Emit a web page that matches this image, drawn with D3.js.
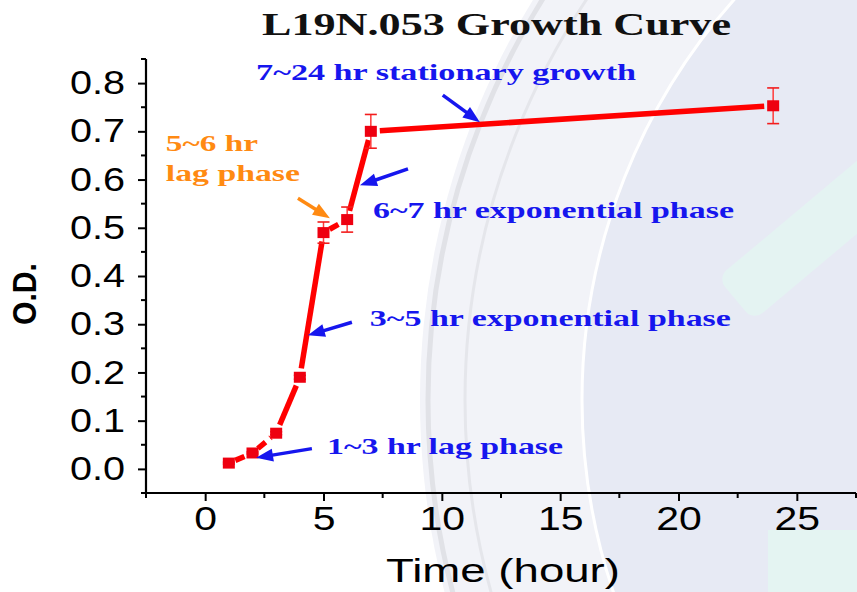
<!DOCTYPE html>
<html>
<head>
<meta charset="utf-8">
<script src="https://cdn.jsdelivr.net/npm/d3@7"></script>
<style>
  html, body { margin: 0; padding: 0; background: #fff; }
  svg { display: block; }
</style>
</head>
<body>
<svg id="chart" width="857" height="592"></svg>
<script>
// Sampling times (hours) and measured optical density with error
const times = [1, 2, 3, 4, 5, 6, 7, 24];
const odValues = [0.012, 0.033, 0.074, 0.19, 0.49, 0.517, 0.70, 0.753];
const odErrors = [0.002, 0.002, 0.003, 0.004, 0.022, 0.026, 0.035, 0.037];
// Lag-phase connections are drawn dashed
const segmentDashed = [true, true, false, false, true, false, false];

const xTicks = [0, 5, 10, 15, 20, 25];
const yTicks = [0.0, 0.1, 0.2, 0.3, 0.4, 0.5, 0.6, 0.7, 0.8];

// Growth-phase notes: text anchor and arrow (tail -> tip) in hour / O.D. units
const noteTexts = ["7~24 hr stationary growth", "5~6 hr", "lag phase",
                   "6~7 hr exponential phase", "3~5 hr exponential phase", "1~3 hr lag phase"];
const noteHour = [2.15, -1.66, -1.66, 7.09, 6.96, 5.15];
const noteOD   = [0.807, 0.659, 0.597, 0.520, 0.297, 0.031];
const noteKind = ["blue", "orange", "orange", "blue", "blue", "blue"];

const arrowTail = [[10.04, 0.775], [8.57, 0.622], [6.2, 0.304], [4.51, 0.042], [3.92, 0.561]];
const arrowTip  = [[11.61, 0.719], [6.54, 0.588], [4.34, 0.277], [2.15, 0.023], [5.27, 0.520]];
const arrowKind = ["blue", "blue", "blue", "blue", "orange"];

const svg = d3.select("#chart");
const W = 857, H = 592;
const margin = { left: 146, right: 1, top: 59, bottom: 99 };

const colors = { blue: "#1616ee", orange: "#ff8a12", red: "#ff0000", marker: "#ee0010" };
const serif = "'Liberation Serif', 'Times New Roman', serif";
const sans = "'Liberation Sans', Arial, sans-serif";

// Light seal emblem in the background
const seal = svg.append("g");
const sc = [1185, 400];
seal.append("circle").attr("cx", sc[0]).attr("cy", sc[1]).attr("r", 765).attr("fill", "#f2f3f8");
seal.append("circle").attr("cx", sc[0]).attr("cy", sc[1]).attr("r", 757)
  .attr("fill", "none").attr("stroke", "#e1e2e7").attr("stroke-width", 5);
seal.append("circle").attr("cx", sc[0]).attr("cy", sc[1]).attr("r", 720)
  .attr("fill", "none").attr("stroke", "#e5e6eb").attr("stroke-width", 3);
seal.append("circle").attr("cx", sc[0]).attr("cy", sc[1]).attr("r", 603)
  .attr("fill", "#e7eaf4").attr("stroke", "#ffffff").attr("stroke-width", 3);
seal.append("rect").attr("x", -100).attr("y", -28).attr("width", 210).attr("height", 56).attr("rx", 12)
  .attr("transform", "translate(812,235) rotate(-40)").attr("fill", "#e4f3f2");
seal.append("rect").attr("x", 768).attr("y", 530).attr("width", 89).attr("height", 62).attr("fill", "#e4f4f2");

const x = d3.scaleLinear().domain([-2.5, 27.5]).range([margin.left, W - margin.right]);
const y = d3.scaleLinear().domain([-0.05, 0.85]).range([H - margin.bottom, margin.top]);

// Horizontally widen a text element by a factor
function widen(sel, factor) {
  sel.each(function () {
    const w = this.getComputedTextLength();
    d3.select(this).attr("textLength", w * factor).attr("lengthAdjust", "spacingAndGlyphs");
  });
}

// Axes
const xMinor = d3.range(-2.5, 27.6, 2.5).filter(v => !xTicks.includes(v));
const yMinor = d3.range(-0.05, 0.851, 0.1).map(v => +v.toFixed(2));

const xAxisG = svg.append("g").attr("transform", `translate(0,${y(-0.05)})`);
xAxisG.call(d3.axisBottom(x).tickValues(xTicks).tickFormat(d3.format("d")).tickSize(8).tickPadding(6));
xAxisG.selectAll(".minor").data(xMinor).enter().append("line")
  .attr("x1", d => x(d)).attr("x2", d => x(d)).attr("y1", 0).attr("y2", 5)
  .attr("stroke", "#000").attr("stroke-width", 2);

const yAxisG = svg.append("g").attr("transform", `translate(${x(-2.5)},0)`);
yAxisG.call(d3.axisLeft(y).tickValues(yTicks).tickFormat(d3.format(".1f")).tickSize(8).tickPadding(13));
yAxisG.selectAll(".minor").data(yMinor).enter().append("line")
  .attr("y1", d => y(d)).attr("y2", d => y(d)).attr("x1", 0).attr("x2", -5)
  .attr("stroke", "#000").attr("stroke-width", 2);

[xAxisG, yAxisG].forEach(g => {
  g.select(".domain").attr("stroke", "#000").attr("stroke-width", 2.2);
  g.selectAll(".tick line").attr("stroke", "#000").attr("stroke-width", 2);
  g.selectAll(".tick text").attr("font-family", sans).attr("font-size", 33).attr("fill", "#000");
});
xAxisG.select(".domain").attr("d", `M${x(-2.5)},0H${x(27.5)}`);
yAxisG.select(".domain").attr("d", `M0,${y(-0.05)}V${y(0.85)}`);
xAxisG.selectAll(".tick text").attr("dy", "0.71em").call(widen, 1.24);
yAxisG.selectAll(".tick text").call(widen, 1.2);

// Axis titles
svg.append("text")
  .attr("x", 503).attr("y", 582)
  .attr("text-anchor", "middle")
  .attr("font-family", sans).attr("font-size", 33).attr("fill", "#000")
  .text("Time (hour)")
  .attr("textLength", 234).attr("lengthAdjust", "spacingAndGlyphs");

svg.append("text")
  .attr("transform", `translate(36,294) rotate(-90)`)
  .attr("text-anchor", "middle")
  .attr("font-family", sans).attr("font-weight", "bold").attr("font-size", 33).attr("fill", "#000")
  .text("O.D.")
  .attr("textLength", 62).attr("lengthAdjust", "spacingAndGlyphs");

// Title
svg.append("text")
  .attr("x", 262).attr("y", 35)
  .attr("font-family", serif).attr("font-weight", "bold").attr("font-size", 32).attr("fill", "#111")
  .text("L19N.053 Growth Curve")
  .attr("textLength", 469).attr("lengthAdjust", "spacingAndGlyphs");

// Connecting segments, trimmed short of the symbols
const pts = times.map((t, i) => [x(t), y(odValues[i])]);
const segs = d3.range(pts.length - 1).map(i => ({ a: pts[i], b: pts[i + 1], dashed: segmentDashed[i] }));
svg.append("g").selectAll("line").data(segs).enter().append("line")
  .each(function (d) {
    const dx = d.b[0] - d.a[0], dy = d.b[1] - d.a[1];
    const len = Math.hypot(dx, dy);
    const gap = d.dashed ? 7 : 9;
    const ux = dx / len, uy = dy / len;
    d3.select(this)
      .attr("x1", d.a[0] + ux * gap).attr("y1", d.a[1] + uy * gap)
      .attr("x2", d.b[0] - ux * gap).attr("y2", d.b[1] - uy * gap);
  })
  .attr("stroke", colors.red).attr("stroke-width", 5.5)
  .attr("stroke-dasharray", d => d.dashed ? "10,6" : null);

// Error bars
const eb = svg.append("g");
times.forEach((t, i) => {
  const cx = x(t), top = y(odValues[i] + odErrors[i]), bot = y(odValues[i] - odErrors[i]);
  eb.append("line").attr("x1", cx).attr("x2", cx).attr("y1", top).attr("y2", bot)
    .attr("stroke", "#ff3a3a").attr("stroke-width", 1.5);
  [top, bot].forEach(yy => eb.append("line")
    .attr("x1", cx - 6).attr("x2", cx + 6).attr("y1", yy).attr("y2", yy)
    .attr("stroke", "#f21d1d").attr("stroke-width", 1.6));
});

// Square symbols
svg.append("g").selectAll("rect").data(times).enter().append("rect")
  .attr("x", d => x(d) - 6).attr("y", (d, i) => y(odValues[i]) - 5.5)
  .attr("width", 12).attr("height", 11)
  .attr("fill", colors.marker);

// Arrows
const arrowG = svg.append("g");
arrowTail.forEach((tail, i) => {
  const x0 = x(tail[0]), y0 = y(tail[1]);
  const x1 = x(arrowTip[i][0]), y1 = y(arrowTip[i][1]);
  const c = colors[arrowKind[i]];
  const len = Math.hypot(x1 - x0, y1 - y0);
  const ux = (x1 - x0) / len, uy = (y1 - y0) / len;
  const headL = 17, headW = 6.5;
  const bx = x1 - ux * headL, by = y1 - uy * headL;
  arrowG.append("line").attr("x1", x0).attr("y1", y0).attr("x2", bx + ux * 2).attr("y2", by + uy * 2)
    .attr("stroke", c).attr("stroke-width", 3.5);
  arrowG.append("path")
    .attr("d", `M${x1},${y1}L${bx - uy * headW},${by + ux * headW}L${bx + uy * headW},${by - ux * headW}Z`)
    .attr("fill", c);
});

// Phase labels
const noteWidths = [380, 92, 134, 361, 361, 236];
svg.append("g").selectAll("text").data(noteTexts).enter().append("text")
  .attr("x", (d, i) => x(noteHour[i])).attr("y", (d, i) => y(noteOD[i]))
  .attr("font-family", serif).attr("font-weight", "bold").attr("font-size", 24)
  .attr("fill", (d, i) => colors[noteKind[i]])
  .text(d => d)
  .attr("textLength", (d, i) => noteWidths[i]).attr("lengthAdjust", "spacingAndGlyphs");
</script>
</body>
</html>
